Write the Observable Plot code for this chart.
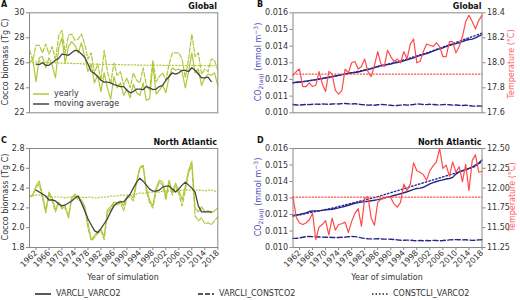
<!DOCTYPE html>
<html><head><meta charset="utf-8">
<script src="https://cdn.jsdelivr.net/npm/d3@7"></script>
<script src="https://cdn.jsdelivr.net/npm/@observablehq/plot@0.6"></script>
<style>
body{margin:0;background:#fff;}
#wrap{position:relative;width:520px;height:300px;font-family:"DejaVu Sans",sans-serif;color:#333;overflow:hidden;background:#fff;}
#wrap svg.plot{position:absolute;left:0;top:0;}
.t{position:absolute;white-space:nowrap;font-size:8px;line-height:1;}
.b{font-weight:bold;color:#111;}
.rot{transform:translate(-50%,-50%) rotate(-90deg);}
.lg{position:absolute;display:flex;align-items:center;font-size:8px;white-space:nowrap;color:#333;}
.lg svg{margin-right:5px;}
</style></head><body><div id="wrap"></div>
<script>
// ---------- data ----------
const years = d3.range(1960, 2019);      // yearly values 1960..2018
const maYears = d3.range(1962, 2017);    // 5-yr moving average 1962..2016
const xTicks = [1962,1966,1970,1974,1978,1982,1986,1990,1994,1998,2002,2006,2010,2014,2018];

// Panel A – Global cocco biomass (Tg C)
const A_varcli_varco2 = [26.0,26.3,24.5,26.4,26.5,25.6,26.4,25.8,24.8,27.2,
  28.0,26.0,27.3,27.7,27.4,26.8,27.6,26.5,25.3,25.9,
  24.4,25.0,23.7,25.2,24.0,23.1,24.9,24.0,24.4,23.4,
  23.9,23.2,24.3,23.6,23.4,24.4,23.0,23.1,25.9,23.5,
  23.8,24.2,23.6,24.9,25.6,25.4,25.5,25.3,24.0,25.3,
  26.8,25.2,25.5,24.2,24.8,25.1,25.0,25.2,24.2];
const A_varcli_constco2 = [27.0,26.2,27.4,27.4,26.8,27.5,26.7,27.3,26.2,28.2,
  28.6,26.8,28.2,28.3,27.8,27.9,28.3,27.5,26.3,26.8,
  25.2,25.9,24.6,27.0,25.3,24.3,26.0,25.0,25.3,24.2,
  24.8,24.0,25.2,24.6,24.4,25.6,24.2,23.8,26.2,24.5,
  24.9,25.2,24.6,25.9,26.8,26.8,26.8,26.3,24.8,26.3,
  28.3,26.5,26.8,25.1,25.5,25.3,26.3,26.2,25.4];
const A_constcli_varco2 = [26.05,26.0,26.08,26.1,26.02,26.05,26.0,25.98,26.02,26.0,
  25.97,25.95,25.98,25.96,25.93,25.95,25.92,25.9,25.93,25.9,
  25.88,25.9,25.87,25.85,25.88,25.86,25.84,25.87,25.85,25.83,
  25.85,25.82,25.84,25.82,25.8,25.83,25.81,25.8,25.83,25.8,
  25.82,25.8,25.78,25.81,25.79,25.8,25.78,25.8,25.77,25.79,
  25.8,25.78,25.77,25.79,25.76,25.78,25.77,25.76,25.78];
const A_movavg = [25.9,25.85,26.0,25.8,25.8,26.0,26.2,26.35,26.7,26.65,
  26.6,26.8,27.0,26.95,26.7,26.45,25.9,25.3,25.15,24.9,
  24.6,24.45,24.45,24.4,24.25,24.2,24.1,24.1,23.8,23.6,
  23.7,23.9,23.9,23.85,24.1,24.0,23.85,23.9,24.1,24.2,
  24.6,24.9,25.2,25.1,25.2,25.4,25.4,25.3,25.6,25.4,
  25.1,24.8,24.8,24.85,24.5];

// Panel B – Global CO2(aq) (mmol m-3) and temperature (°C)
const B_co2_varcli_varco2 = [.01180,.01183,.01185,.01187,.01190,.01193,.01196,.01199,.01203,.01206,
  .01210,.01213,.01217,.01221,.01225,.01229,.01233,.01237,.01240,.01242,
  .01245,.01250,.01255,.01260,.01265,.01272,.01278,.01283,.01287,.01290,
  .01293,.01298,.01302,.01306,.01312,.01318,.01324,.01330,.01337,.01345,
  .01350,.01355,.01362,.01370,.01378,.01384,.01390,.01398,.01405,.01410,
  .01415,.01420,.01428,.01435,.01440,.01442,.01450,.01460,.01468];
const B_co2_constcli_varco2 = [.01180,.01182,.01184,.01186,.01189,.01192,.01195,.01198,.01202,.01205,
  .01209,.01212,.01216,.01220,.01224,.01228,.01232,.01236,.01240,.01244,
  .01248,.01252,.01256,.01261,.01266,.01271,.01276,.01281,.01286,.01291,
  .01296,.01301,.01306,.01311,.01317,.01323,.01329,.01335,.01341,.01347,
  .01353,.01359,.01366,.01373,.01380,.01387,.01394,.01401,.01408,.01415,
  .01422,.01429,.01436,.01443,.01450,.01457,.01464,.01471,.01478];
const B_co2_varcli_constco2 = [.01050,.01047,.01046,.01048,.01050,.01049,.01051,.01052,.01051,.01053,
  .01052,.01051,.01053,.01054,.01053,.01055,.01056,.01054,.01053,.01055,
  .01052,.01049,.01048,.01046,.01047,.01045,.01048,.01050,.01049,.01047,
  .01045,.01043,.01044,.01046,.01048,.01046,.01048,.01050,.01053,.01052,
  .01050,.01049,.01051,.01050,.01048,.01047,.01049,.01050,.01048,.01046,
  .01047,.01045,.01044,.01046,.01043,.01041,.01040,.01041,.01040];
const B_temp_varcli = [17.90,17.93,17.95,17.81,17.81,17.84,17.81,17.82,17.93,17.83,
  17.77,17.93,17.91,17.78,17.75,17.78,17.95,17.92,18.00,18.01,
  17.95,17.97,18.03,17.93,17.89,17.98,18.09,17.99,17.97,18.10,
  18.05,18.01,18.03,18.00,18.09,18.03,18.15,18.19,18.00,18.01,
  18.09,18.15,18.14,18.13,18.16,18.13,18.05,18.05,18.17,18.17,
  18.08,18.13,18.21,18.33,18.38,18.33,18.27,18.34,18.38];
const B_temp_constcli = 17.91;

// Panel C – North Atlantic cocco biomass (Tg C)
const C_varcli_varco2 = [2.31,2.33,2.42,2.47,2.33,2.17,2.36,2.30,2.18,2.26,
  2.20,2.22,2.10,2.30,2.34,2.30,2.28,2.22,2.05,1.88,
  1.92,1.96,1.98,1.91,2.18,2.21,2.26,2.25,2.27,2.22,
  2.31,2.33,2.30,2.47,2.60,2.62,2.40,2.28,2.22,2.40,
  2.48,2.46,2.32,2.48,2.36,2.45,2.38,2.28,2.42,2.58,
  2.67,2.20,2.16,2.21,2.16,2.17,2.15,2.17,2.20];
const C_varcli_constco2 = [2.31,2.33,2.40,2.44,2.30,2.15,2.33,2.27,2.16,2.25,
  2.19,2.20,2.12,2.30,2.32,2.28,2.26,2.20,2.00,1.87,
  1.90,1.94,1.97,1.88,2.15,2.19,2.24,2.23,2.25,2.17,
  2.30,2.31,2.27,2.45,2.61,2.63,2.37,2.25,2.20,2.37,
  2.46,2.43,2.28,2.45,2.33,2.42,2.34,2.22,2.38,2.55,
  2.63,2.12,2.07,2.10,2.04,2.05,2.03,2.07,2.11];
const C_constcli_varco2 = [2.32,2.32,2.33,2.33,2.32,2.31,2.32,2.31,2.31,2.31,
  2.31,2.30,2.31,2.31,2.32,2.31,2.31,2.30,2.31,2.31,
  2.30,2.30,2.31,2.31,2.31,2.32,2.32,2.32,2.33,2.33,
  2.33,2.33,2.34,2.34,2.35,2.35,2.35,2.36,2.36,2.36,
  2.36,2.37,2.37,2.37,2.37,2.38,2.37,2.38,2.38,2.38,
  2.38,2.38,2.38,2.38,2.37,2.38,2.38,2.37,2.37];
const C_movavg = [2.38,2.36,2.34,2.32,2.28,2.28,2.27,2.24,2.22,2.23,
  2.25,2.27,2.30,2.32,2.25,2.17,2.09,2.03,1.97,1.95,
  1.99,2.04,2.09,2.16,2.22,2.25,2.26,2.26,2.30,2.34,
  2.40,2.46,2.50,2.47,2.43,2.39,2.37,2.37,2.38,2.41,
  2.42,2.42,2.39,2.36,2.39,2.43,2.46,2.43,2.40,2.36,
  2.22,2.16,2.16,2.16,2.16];

// Panel D – North Atlantic CO2(aq) and temperature
const D_co2_varcli_varco2 = [.01195,.01198,.01200,.01205,.01210,.01218,.01222,.01222,.01223,.01225,
  .01228,.01230,.01232,.01236,.01240,.01245,.01250,.01256,.01262,.01268,
  .01272,.01275,.01278,.01280,.01283,.01286,.01290,.01295,.01300,.01305,
  .01310,.01315,.01320,.01326,.01332,.01338,.01345,.01352,.01358,.01360,
  .01365,.01375,.01385,.01393,.01400,.01405,.01410,.01415,.01418,.01425,
  .01445,.01458,.01465,.01472,.01480,.01488,.01500,.01512,.01530];
const D_co2_constcli_varco2 = [.01190,.01194,.01198,.01202,.01206,.01210,.01214,.01218,.01222,.01226,
  .01230,.01234,.01238,.01243,.01248,.01253,.01258,.01263,.01268,.01273,
  .01278,.01283,.01288,.01293,.01298,.01303,.01308,.01314,.01320,.01326,
  .01332,.01338,.01344,.01350,.01356,.01362,.01368,.01374,.01380,.01386,
  .01392,.01398,.01404,.01410,.01416,.01422,.01428,.01434,.01440,.01446,
  .01452,.01458,.01464,.01470,.01477,.01484,.01492,.01505,.01525];
const D_co2_varcli_constco2 = [.01055,.01056,.01058,.01062,.01066,.01067,.01066,.01065,.01064,.01063,
  .01062,.01062,.01061,.01060,.01061,.01062,.01063,.01065,.01067,.01066,
  .01063,.01058,.01055,.01053,.01052,.01052,.01053,.01052,.01051,.01051,
  .01050,.01048,.01046,.01044,.01044,.01045,.01044,.01042,.01041,.01042,
  .01041,.01042,.01041,.01043,.01042,.01041,.01042,.01044,.01046,.01047,
  .01048,.01047,.01046,.01047,.01045,.01043,.01044,.01046,.01047];
const D_temp_varcli = [11.885,11.63,11.56,11.54,11.56,11.60,11.68,11.35,11.51,11.54,
  11.59,11.41,11.62,11.47,11.54,11.55,11.57,11.44,11.58,11.68,
  11.74,11.52,11.87,11.89,11.62,11.53,11.82,11.86,11.87,11.89,
  11.88,11.80,11.76,11.82,12.05,11.97,12.05,12.32,12.22,12.20,
  12.17,12.10,12.22,12.28,12.33,12.50,12.25,12.29,12.15,12.33,
  12.20,12.27,12.08,12.30,11.97,12.35,12.42,12.20,12.21];
const D_temp_constcli = 11.885;

// ---------- styling ----------
const GREEN = "#afc83a", DARK = "#444444", BLUE = "#25258a", RED = "#ff4a4a";
const AX = {stroke: "#888", fill: "#333", tickSize: 3, tickPadding: 2, label: null};
const FR = {stroke: "#888"};
const boxes = {
  A: {l: 29, r: 217.3, t: 12.3, b: 112.3},
  B: {l: 292.5, r: 481.5, t: 12.3, b: 112.3},
  C: {l: 29, r: 217.3, t: 148, b: 247},
  D: {l: 292.5, r: 481.5, t: 148, b: 247}
};
const wrap = document.getElementById("wrap");
const rows = (xs, vs) => xs.map((x, i) => ({x, v: vs[i]}));
const ln = (xs, vs, o) => Plot.line(rows(xs, vs), {x: "x", y: "v", ...o});
const hl = (xs, v, o) => Plot.line(xs.map(x => ({x, v})), {x: "x", y: "v", ...o});

function panel(box, ydomain, marks) {
  const svg = Plot.plot({
    width: 520, height: 300,
    marginLeft: box.l, marginRight: 520 - box.r, marginTop: box.t, marginBottom: 300 - box.b,
    x: {domain: [1960, 2018], axis: null, label: null},
    y: {domain: ydomain, axis: null, label: null},
    style: {fontFamily: "DejaVu Sans", fontSize: "8px", background: "transparent", overflow: "visible"},
    marks
  });
  svg.classList.add("plot");
  wrap.appendChild(svg);
}
const xAxisRot = () => Plot.axisX({ticks: xTicks, tickFormat: d => String(d), tickRotate: -45, ...AX, tickPadding: 1});

const solidG = {stroke: GREEN, strokeWidth: 1.2};
const dashG = {stroke: GREEN, strokeWidth: 1.2, strokeDasharray: "4.4,1.9"};
const dotG = {stroke: GREEN, strokeWidth: 1.2, strokeDasharray: "1.2,2"};
const maS = {stroke: DARK, strokeWidth: 1.3};
const solidB = {stroke: BLUE, strokeWidth: 1.4};
const dashB = {stroke: BLUE, strokeWidth: 1.4, strokeDasharray: "5,2.4"};
const dotB = {stroke: BLUE, strokeWidth: 1.4, strokeDasharray: "1.4,2.2"};
const solidR = {stroke: RED, strokeWidth: 1.2};
const dotR = {stroke: RED, strokeWidth: 1.2, strokeDasharray: "1.2,2"};

// A
panel(boxes.A, [22, 30], [
  Plot.axisY({ticks: [22, 24, 26, 28, 30], tickFormat: d3.format("d"), ...AX}),
  ln(years, A_constcli_varco2, dotG),
  ln(years, A_varcli_constco2, dashG),
  ln(years, A_varcli_varco2, solidG),
  ln(maYears, A_movavg, maS),
  Plot.frame(FR)
]);
// B (CO2, left axis)
panel(boxes.B, [0.010, 0.016], [
  Plot.axisY({ticks: [0.010, 0.011, 0.012, 0.013, 0.014, 0.015, 0.016], tickFormat: d3.format(".3f"), ...AX}),
  ln(years, B_co2_varcli_constco2, dashB),
  ln(years, B_co2_constcli_varco2, dotB),
  ln(years, B_co2_varcli_varco2, solidB),
  Plot.frame(FR)
]);
// B (temperature, right axis)
panel(boxes.B, [17.6, 18.4], [
  Plot.axisY({anchor: "right", ticks: [17.6, 17.8, 18.0, 18.2, 18.4], tickFormat: d3.format(".1f"), ...AX}),
  hl(years, B_temp_constcli, dotR),
  ln(years, B_temp_varcli, solidR)
]);
// C
panel(boxes.C, [1.8, 2.8], [
  Plot.axisY({ticks: [1.8, 2.0, 2.2, 2.4, 2.6, 2.8], tickFormat: d3.format(".1f"), ...AX}),
  xAxisRot(),
  ln(years, C_constcli_varco2, dotG),
  ln(years, C_varcli_constco2, dashG),
  ln(years, C_varcli_varco2, solidG),
  ln(maYears, C_movavg, maS),
  Plot.frame(FR)
]);
// D (CO2)
panel(boxes.D, [0.010, 0.016], [
  Plot.axisY({ticks: [0.010, 0.011, 0.012, 0.013, 0.014, 0.015, 0.016], tickFormat: d3.format(".3f"), ...AX}),
  xAxisRot(),
  ln(years, D_co2_varcli_constco2, dashB),
  ln(years, D_co2_constcli_varco2, dotB),
  ln(years, D_co2_varcli_varco2, solidB),
  Plot.frame(FR)
]);
// D (temperature)
panel(boxes.D, [11.25, 12.5], [
  Plot.axisY({anchor: "right", ticks: [11.25, 11.5, 11.75, 12.0, 12.25, 12.5], tickFormat: d3.format(".2f"), ...AX}),
  hl(years, D_temp_constcli, dotR),
  ln(years, D_temp_varcli, solidR)
]);

// ---------- text & legends ----------
function txt(html, css, cls = "t") {
  const d = document.createElement("div");
  d.className = cls; d.innerHTML = html; d.style.cssText = css;
  wrap.appendChild(d); return d;
}
function sw(dash, color) {
  return `<svg width="16" height="6"><line x1="0" y1="3" x2="16" y2="3" stroke="${color}" stroke-width="1.5" ${dash ? `stroke-dasharray="${dash}"` : ""}/></svg>`;
}
txt("A", "left:1px;top:1px;font-size:8px", "t b");
txt("B", "left:257px;top:1px;font-size:8px", "t b");
txt("C", "left:1px;top:137px;font-size:8px", "t b");
txt("D", "left:257px;top:137px;font-size:8px", "t b");
txt("Global", `right:${520 - 217}px;top:3px`, "t b");
txt("Global", `right:${520 - 481.5}px;top:3px`, "t b");
txt("North Atlantic", `right:${520 - 217}px;top:139px`, "t b");
txt("North Atlantic", `right:${520 - 481.5}px;top:139px`, "t b");

txt("Cocco biomass (Tg C)", "left:6px;top:62px", "t rot");
txt("Cocco biomass (Tg C)", "left:6px;top:197px", "t rot");
const co2 = 'CO<sub style="font-size:6px;vertical-align:-2px">2(aq)</sub> (mmol m<sup style="font-size:6px;vertical-align:3px">−3</sup>)';
txt(co2, "left:258px;top:62px;color:#4a46b4", "t rot");
txt(co2, "left:258px;top:197px;color:#4a46b4", "t rot");
txt("Temperature (°C)", "left:512px;top:64px;color:#ff5c5c", "t rot");
txt("Temperature (°C)", "left:513px;top:197px;color:#ff5c5c", "t rot");
txt("Year of simulation", "left:123px;top:278px;transform:translate(-50%,-50%)");
txt("Year of simulation", "left:387px;top:278px;transform:translate(-50%,-50%)");

// in-panel legend (A)
txt(sw(null, GREEN) + "yearly", "left:33px;top:89px", "lg");
txt(sw(null, DARK) + "moving average", "left:33px;top:99px", "lg");
// bottom legend
txt(sw(null, "#222") + "VARCLI_VARCO2", "left:35px;top:289px", "lg");
txt(sw("5,2", "#222") + "VARCLI_CONSTCO2", "left:198px;top:289px", "lg");
txt(sw("1.5,2", "#222") + "CONSTCLI_VARCO2", "left:372px;top:289px", "lg");
</script></body></html>
